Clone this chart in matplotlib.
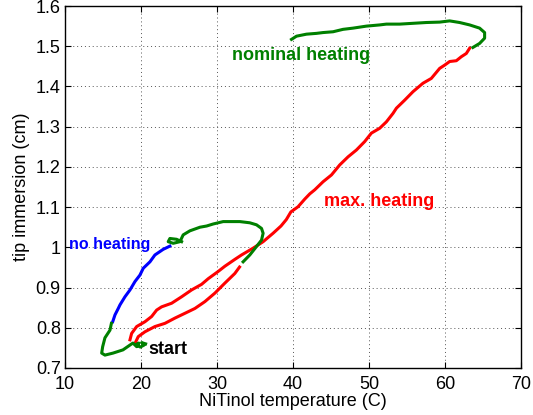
import matplotlib
matplotlib.use('Agg')
import matplotlib.pyplot as plt
from matplotlib.ticker import FuncFormatter

plt.rcParams['font.family'] = ['Liberation Sans', 'DejaVu Sans']
plt.rcParams['font.size'] = 13

# max. heating: two red passes through the start region
red_lo_t = [19.20, 19.63, 20.51, 21.82, 23.14, 24.45, 25.77, 27.08, 28.39, 29.70, 31.02, 32.33, 32.95]
red_lo_z = [0.761, 0.778, 0.790, 0.803, 0.811, 0.824, 0.836, 0.848, 0.865, 0.886, 0.911, 0.935, 0.951]

red_hi_t = [18.54, 18.76, 19.42, 20.51, 21.39, 22.05, 22.70, 24.02, 25.33, 26.64, 27.96, 28.83,
            30.14, 31.02, 32.33, 33.21, 34.74, 36.05, 37.36, 38.40, 39.10, 39.70, 40.65, 41.53,
            42.19, 42.84, 43.93, 45.04, 46.13, 47.22, 48.32, 49.41, 50.29, 51.38, 52.26, 53.13,
            53.58, 54.67, 55.76, 57.07, 58.17, 59.27, 59.92, 60.58, 61.46, 62.12, 62.77, 63.21]
red_hi_z = [0.770, 0.786, 0.803, 0.815, 0.828, 0.844, 0.852, 0.861, 0.877, 0.894, 0.908, 0.922,
            0.940, 0.953, 0.970, 0.981, 0.998, 1.014, 1.035, 1.053, 1.069, 1.088, 1.101, 1.120,
            1.133, 1.143, 1.163, 1.180, 1.205, 1.225, 1.242, 1.263, 1.284, 1.296, 1.312, 1.333,
            1.346, 1.366, 1.387, 1.408, 1.420, 1.445, 1.453, 1.462, 1.464, 1.474, 1.482, 1.495]

# no heating
blue_t = [23.79, 22.91, 21.82, 21.17, 20.29, 19.85, 19.20, 18.54, 17.88, 17.23, 17.00, 16.57, 16.27]
blue_z = [1.003, 0.995, 0.981, 0.964, 0.948, 0.931, 0.915, 0.894, 0.877, 0.857, 0.848, 0.832, 0.815]

# nominal heating, three pieces
green_a_t = [16.10, 15.91, 15.25, 14.95, 14.82, 15.25, 16.31, 17.62, 18.54, 18.93, 19.42,
             19.70, 19.30, 19.90, 20.40, 20.08, 20.60]
green_a_z = [0.811, 0.794, 0.775, 0.753, 0.737, 0.732, 0.737, 0.745, 0.757, 0.762, 0.753,
             0.762, 0.758, 0.752, 0.757, 0.763, 0.760]

green_b_t = [33.42, 34.30, 35.18, 35.84, 36.05, 35.84, 35.18, 34.30, 32.99, 31.68, 30.80, 29.48,
             28.62, 27.74, 26.42, 25.54, 25.11, 24.23, 23.57, 23.79, 24.67, 25.33]
green_b_z = [0.964, 0.981, 1.002, 1.018, 1.035, 1.047, 1.056, 1.061, 1.064, 1.064, 1.064, 1.058,
             1.053, 1.050, 1.041, 1.031, 1.014, 1.010, 1.014, 1.022, 1.020, 1.014]

green_c_t = [39.78, 40.44, 41.75, 43.07, 43.93, 45.25, 46.56, 47.87, 49.63, 51.38, 52.26, 54.01,
             55.76, 57.52, 59.27, 60.58, 61.89, 63.21, 64.52, 65.18, 65.18, 64.52, 63.64]
green_c_z = [1.517, 1.525, 1.530, 1.532, 1.534, 1.536, 1.542, 1.545, 1.550, 1.553, 1.555, 1.555,
             1.557, 1.559, 1.560, 1.563, 1.559, 1.553, 1.545, 1.534, 1.520, 1.507, 1.497]

GREEN = '#008000'
RED = '#ff0000'
BLUE = '#0000ff'
LW = 2.2

fig = plt.figure(figsize=(5.33, 4.15), dpi=100)
ax = fig.add_axes([0.122, 0.1133, 0.856, 0.8722])

ax.plot(red_lo_t, red_lo_z, color=RED, lw=LW)
ax.plot(red_hi_t, red_hi_z, color=RED, lw=LW)
ax.plot(blue_t, blue_z, color=BLUE, lw=LW)
ax.plot(green_a_t, green_a_z, color=GREEN, lw=LW)
ax.plot(green_b_t, green_b_z, color=GREEN, lw=LW)
ax.plot(green_c_t, green_c_z, color=GREEN, lw=LW)

ax.text(32.0, 1.476, 'nominal heating', color=GREEN, fontweight='bold', va='center')
ax.text(44.0, 1.115, 'max. heating', color=RED, fontweight='bold', va='center')
ax.text(10.5, 1.006, 'no heating', color=BLUE, fontweight='bold', va='center', fontsize=11.5)
ax.text(21.0, 0.745, 'start', color='black', fontweight='bold', va='center')

ax.set_xlim(10, 70)
ax.set_ylim(0.7, 1.6)
ax.set_xticks(range(10, 71, 10))
ax.set_yticks([0.7 + 0.1 * i for i in range(10)])
ax.yaxis.set_major_formatter(FuncFormatter(lambda v, p: '%g' % round(v, 2)))
ax.tick_params(direction='in', length=4, width=0.8, top=True, right=True)
ax.tick_params(axis='x', pad=6)
ax.tick_params(axis='y', pad=3)
ax.grid(True, color='#555555', linestyle=(0, (1, 3)), linewidth=0.7)
for s in ax.spines.values():
    s.set_linewidth(1.0)

ax.set_xlabel('NiTinol temperature (C)', labelpad=0)
ax.set_ylabel('tip immersion (cm)', labelpad=4)

fig.savefig('out.png', dpi=100)
